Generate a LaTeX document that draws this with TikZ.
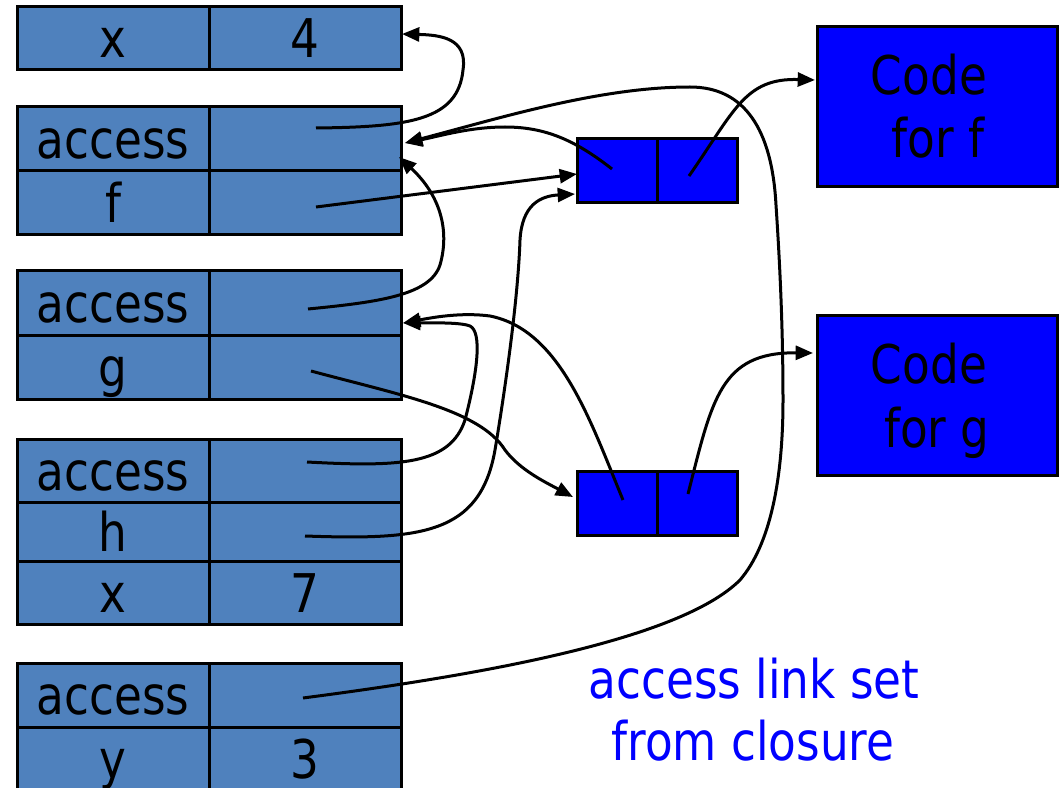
\documentclass[tikz,border=0pt]{standalone}
\usepackage{fontspec}
\setmainfont{DejaVu Sans}[FakeStretch=0.85]
\usetikzlibrary{arrows.meta}
\definecolor{framefill}{RGB}{79,129,189}
\definecolor{pureblue}{RGB}{0,0,255}
\begin{document}
\begin{tikzpicture}[x=0.75pt,y=-0.75pt,
  cell/.style={draw=black, line width=2.25pt, fill=framefill, rectangle, inner sep=0pt,
    minimum width=144pt, text height=29.25pt, text depth=0pt, font=\fontsize{40}{40}\selectfont},
  r63/.style={minimum height=47.25pt},
  r64/.style={minimum height=48pt},
  r59/.style={minimum height=44.25pt},
  ccell/.style={draw=black, line width=2.25pt, fill=pureblue, rectangle, inner sep=0pt,
    minimum width=60pt, minimum height=48pt},
  codebox/.style={draw=black, line width=2.25pt, fill=pureblue, rectangle, inner sep=0pt,
    minimum width=180pt, minimum height=120pt},
  txt/.style={inner sep=0pt, anchor=base, font=\fontsize{40}{40}\selectfont},
  link/.style={draw=black, line width=2.25pt, -{Triangle[length=13pt,width=10.5pt]}}
]
\clip (0,0) rectangle (1061,788);
\path[use as bounding box] (0,0) rectangle (1061,788);

% frame with x = 4
\node[cell,r63] (x1n) at (113,38.5) {x};
\node[cell,r63] (x1v) at (305,38.5) {4};
% frame with access, f
\node[cell,r64] (afn) at (113,139) {access};
\node[cell,r64] (afv) at (305,139) {};
\node[cell,r64] (fn) at (113,203) {f};
\node[cell,r64] (fv) at (305,203) {};
% frame with access, g
\node[cell,r64] (agn) at (113,303) {access};
\node[cell,r64] (agv) at (305,303) {};
\node[cell,r64] (gn) at (113,367) {g};
\node[cell,r64] (gv) at (305,367) {};
% frame with access, h, x = 7
\node[cell,r63] (ahn) at (113,470.5) {access};
\node[cell,r63] (ahv) at (305,470.5) {};
\node[cell,r59] (hn) at (113,531.5) {h};
\node[cell,r59] (hv) at (305,531.5) {};
\node[cell,r63] (x2n) at (113,592.5) {x};
\node[cell,r63] (x2v) at (305,592.5) {7};
% frame with access, y = 3
\node[cell,r64] (ayn) at (113,695) {access};
\node[cell,r64] (ayv) at (305,695) {};
\node[cell,r64] (yn) at (113,759) {y};
\node[cell,r64] (yv) at (305,759) {3};

% closures
\node[ccell] (c1l) at (617,171) {};
\node[ccell] (c1r) at (697,171) {};
\node[ccell] (c2l) at (617,503) {};
\node[ccell] (c2r) at (697,503) {};

% code boxes
\node[codebox] (codef) at (937,107) {};
\node[codebox] (codeg) at (937,395) {};
\node[txt] (codef1) at (929,95) {Code};
\node[txt] (codef2) at (938,158) {for f};
\node[txt] (codeg1) at (929,383) {Code};
\node[txt] (codeg2) at (937,447) {for g};

% label
\node[txt, text=pureblue] (lab1) at (754,698) {access link set};
\node[txt, text=pureblue] (lab2) at (753,760) {from closure};

% connector end points
\coordinate (sAF) at (316,128);
\coordinate (tX4) at (402,34);
\coordinate (sF) at (316,207);
\coordinate (tC1a) at (577,174);
\coordinate (sAG) at (308,309);
\coordinate (tAFb) at (399,157);
\coordinate (sG) at (311,371);
\coordinate (tC2) at (573,497);
\coordinate (sAH) at (307,462);
\coordinate (tAG) at (403,323);
\coordinate (sH) at (305,536);
\coordinate (tC1b) at (575,194);
\coordinate (sAY) at (303,698);
\coordinate (tAF) at (405,143);
\coordinate (sC1L) at (612,169);
\coordinate (sC1R) at (689,176);
\coordinate (tCF) at (815,80);
\coordinate (sC2L) at (623,500);
\coordinate (sC2R) at (688,494);
\coordinate (tCG) at (813,353);

% connectors
\draw[link] (sAF) .. controls (410,127) and (458,120) .. (463,70)
  .. controls (468,38) and (440,35) .. (tX4);
\draw[link] (sF) -- (tC1a);
\draw[link] (sAG) .. controls (380,302) and (430,295) .. (440,265)
  .. controls (450,230) and (440,195) .. (tAFb);
\draw[link] (sG) .. controls (400,395) and (480,410) .. (505,450)
  .. controls (520,470) and (545,482) .. (tC2);
\draw[link] (sAH) .. controls (400,467) and (450,465) .. (465,420)
  .. controls (478,370) and (482,332) .. (470,326)
  .. controls (460,322) and (430,323) .. (tAG);
\draw[link] (sH) .. controls (420,540) and (480,535) .. (495,450)
  .. controls (505,390) and (518,300) .. (520,240)
  .. controls (522,205) and (540,196) .. (tC1b);
\draw[link] (sAY) .. controls (480,675) and (680,640) .. (740,580)
  .. controls (770,545) and (783,480) .. (783,400)
  .. controls (783,320) and (779,250) .. (776,205)
  .. controls (772,130) and (745,87) .. (690,87)
  .. controls (600,87) and (500,118) .. (tAF);
\draw[link] (sC1L) .. controls (575,140) and (545,127) .. (505,127)
  .. controls (470,127) and (440,136) .. (tAF);
\draw[link] (sC2L) .. controls (590,420) and (560,330) .. (490,316)
  .. controls (460,312) and (430,318) .. (tAG);
\draw[link] (sC1R) .. controls (735,110) and (745,78) .. (tCF);
\draw[link] (sC2R) .. controls (712,400) and (720,352) .. (tCG);
\end{tikzpicture}
\end{document}
